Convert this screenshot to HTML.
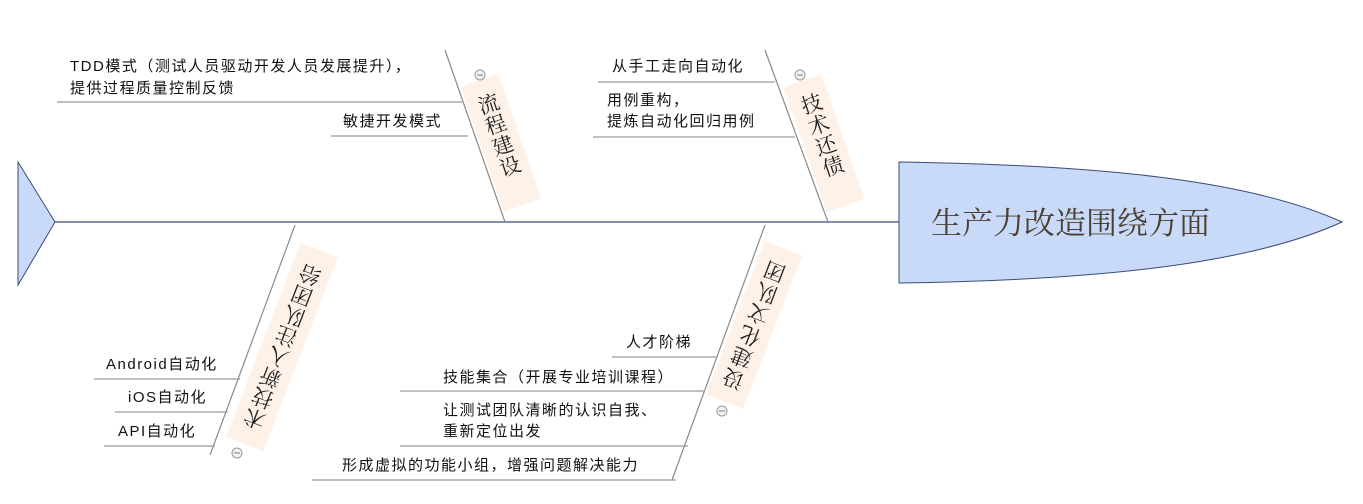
<!DOCTYPE html>
<html><head><meta charset="utf-8"><style>
html,body{margin:0;padding:0;background:#fff;}
svg{display:block;}
.t{font-family:"Liberation Sans","Noto Sans CJK SC",sans-serif;font-size:15px;fill:#111;letter-spacing:1.5px;}
.lb{font-family:"Liberation Serif","Noto Serif CJK SC",serif;font-size:21px;fill:#222;writing-mode:vertical-rl;letter-spacing:1px;}
.lc{font-family:"Liberation Serif","Noto Serif CJK SC",serif;font-size:21px;fill:#222;text-anchor:middle;dominant-baseline:central;}
.ul{stroke:#9a9a9a;stroke-width:1.2;}
.br{stroke:#8a8a8a;stroke-width:1.2;}
</style></head><body>
<svg width="1363" height="504" viewBox="0 0 1363 504" xmlns="http://www.w3.org/2000/svg">
<line x1="55" y1="222" x2="900" y2="222" stroke="#3b4a7a" stroke-width="1.3"/>
<polygon points="18,162 55,222 18,285" fill="#c9daf8" stroke="#3b4a7a" stroke-width="1"/>
<path d="M899,162 C1100,165 1250,180 1342,222 C1250,264 1100,280 899,283 Z" fill="#c9daf8" stroke="#3b4a7a" stroke-width="1"/>
<text x="931" y="234" style="font-family:'Liberation Serif','Noto Serif CJK SC',serif;font-size:31px;fill:#4a3f30;">生产力改造围绕方面</text>

<line class="br" x1="445" y1="50" x2="505" y2="222"/>
<line class="br" x1="765" y1="50" x2="828" y2="222"/>
<line class="br" x1="295" y1="225" x2="210" y2="455"/>
<line class="br" x1="765" y1="225" x2="672" y2="480"/>

<g transform="translate(501,143) rotate(-19)">
<rect x="-20" y="-66" width="40" height="132" fill="#fdf1e8"/>
<text class="lb" x="0" y="-52">流程建设</text></g>
<g transform="translate(824,143) rotate(-19)">
<rect x="-20" y="-66" width="40" height="132" fill="#fdf1e8"/>
<text class="lb" x="0" y="-52">技术还债</text></g>

<g transform="translate(282,347) rotate(21)">
<rect x="-20" y="-104" width="40" height="208" fill="#fdf1e8"/>
<text class="lc" transform="translate(0,-78) rotate(180)">给</text>
<text class="lc" transform="translate(0,-56) rotate(180)">团</text>
<text class="lc" transform="translate(0,-34) rotate(180)">队</text>
<text class="lc" transform="translate(0,-12) rotate(180)">注</text>
<text class="lc" transform="translate(0,10) rotate(180)">入</text>
<text class="lc" transform="translate(0,32) rotate(180)">新</text>
<text class="lc" transform="translate(0,54) rotate(180)">技</text>
<text class="lc" transform="translate(0,76) rotate(180)">术</text>
</g>
<g transform="translate(754,325) rotate(21)">
<rect x="-20" y="-82" width="40" height="164" fill="#fdf1e8"/>
<text class="lc" transform="translate(0,-58) rotate(180)">团</text>
<text class="lc" transform="translate(0,-35) rotate(180)">队</text>
<text class="lc" transform="translate(0,-12) rotate(180)">文</text>
<text class="lc" transform="translate(0,11) rotate(180)">化</text>
<text class="lc" transform="translate(0,34) rotate(180)">建</text>
<text class="lc" transform="translate(0,57) rotate(180)">设</text>
</g>

<g fill="#f3f3f3" stroke="#999" stroke-width="1">
<circle cx="480" cy="75" r="5"/><circle cx="800" cy="75" r="5"/>
<circle cx="237" cy="453" r="5"/><circle cx="722" cy="411" r="5"/></g>
<g stroke="#777" stroke-width="1">
<line x1="477" y1="75" x2="483" y2="75"/><line x1="797" y1="75" x2="803" y2="75"/>
<line x1="234" y1="453" x2="240" y2="453"/><line x1="719" y1="411" x2="725" y2="411"/></g>

<text class="t" x="70" y="71">TDD模式（测试人员驱动开发人员发展提升），</text>
<text class="t" x="70" y="93">提供过程质量控制反馈</text>
<line class="ul" x1="57" y1="102" x2="462" y2="102"/>
<text class="t" x="343" y="126">敏捷开发模式</text>
<line class="ul" x1="331" y1="136" x2="468" y2="136"/>

<text class="t" x="612" y="71">从手工走向自动化</text>
<line class="ul" x1="598" y1="82" x2="775" y2="82"/>
<text class="t" x="607" y="105">用例重构，</text>
<text class="t" x="607" y="126">提炼自动化回归用例</text>
<line class="ul" x1="593" y1="137" x2="795" y2="137"/>

<text class="t" x="106" y="369">Android自动化</text>
<line class="ul" x1="94" y1="379" x2="240" y2="379"/>
<text class="t" x="128" y="402">iOS自动化</text>
<line class="ul" x1="115" y1="412" x2="228" y2="412"/>
<text class="t" x="118" y="436">API自动化</text>
<line class="ul" x1="104" y1="446" x2="215" y2="446"/>

<text class="t" x="626" y="347">人才阶梯</text>
<line class="ul" x1="612" y1="357" x2="716" y2="357"/>
<text class="t" x="443" y="382">技能集合（开展专业培训课程）</text>
<line class="ul" x1="400" y1="391" x2="705" y2="391"/>
<text class="t" x="443" y="415">让测试团队清晰的认识自我、</text>
<text class="t" x="443" y="436">重新定位出发</text>
<line class="ul" x1="400" y1="446" x2="688" y2="446"/>
<text class="t" x="342" y="470">形成虚拟的功能小组，增强问题解决能力</text>
<line class="ul" x1="312" y1="480" x2="676" y2="480"/>
</svg>
</body></html>
